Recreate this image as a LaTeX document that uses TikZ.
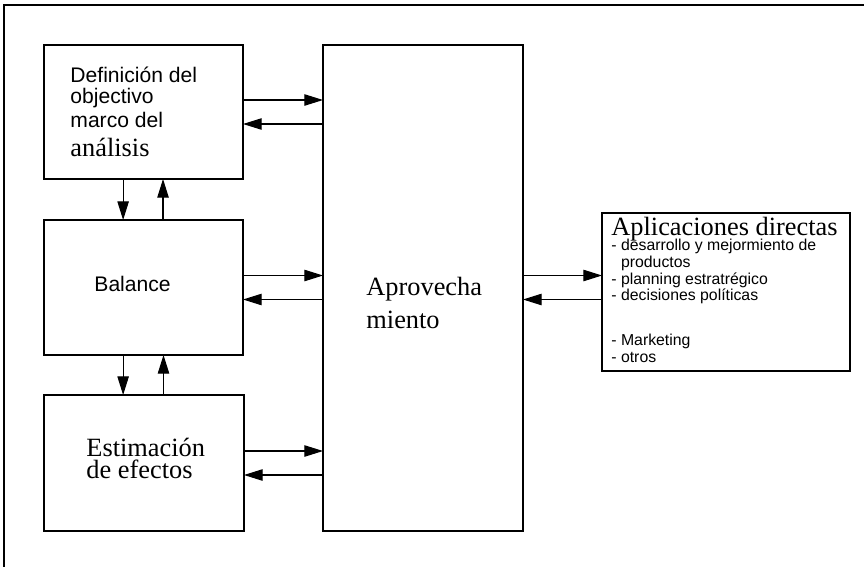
\documentclass[tikz,border=0pt]{standalone}
\usepackage{fontspec}
\newfontfamily\arialf{Liberation Sans}
\newfontfamily\timesf{Liberation Serif}
\usepackage{tikz}
\usetikzlibrary{arrows.meta}
\usetikzlibrary{calc}

\begin{document}
\begin{tikzpicture}[
    box/.style={draw,line width=0.7pt,inner sep=0pt,outer sep=0pt},
    conn/.style={line width=0.5pt,-{Triangle[length=3.1mm,width=1.9mm]}},
    txt/.style={inner sep=0pt,align=left,anchor=base west}]
    \useasboundingbox (0,0) rectangle (14.4,9.45);
    \draw[line width=0.7pt] (0.067,0)--(0.067,9.367)--(14.4,9.367);
    % boxes
    \node[box,minimum width=3.317cm,minimum height=2.233cm] (def) at (2.392,7.583){};
    \node[box,minimum width=3.317cm,minimum height=2.25cm] (bal) at (2.392,4.658){};
    \node[box,minimum width=3.333cm,minimum height=2.267cm] (est) at (2.4,1.733){};
    \node[box,minimum width=3.333cm,minimum height=8.1cm] (apr) at (7.05,4.65){};
    \node[box,minimum width=4.133cm,minimum height=2.633cm] (apl) at (12.1,4.583){};
    % texts (base = last line)
    \node[txt,font=\arialf\fontsize{10}{10}\selectfont] (deftxt) at (1.167,6.845)
        {Definición del\\objectivo\\[1.2pt]marco del\\[3.6pt]{\timesf\fontsize{12.5}{13}\selectfont análisis}};
    \node[txt,font=\arialf\fontsize{10}{12}\selectfont] (baltxt) at (1.567,4.588){Balance};
    \node[txt,font=\timesf\fontsize{12.5}{10.6}\selectfont] (esttxt) at (1.433,1.467){Estimación\\de efectos};
    \node[txt,font=\timesf\fontsize{12.5}{15.5}\selectfont] (aprtxt) at (6.1,3.983){Aprovecha\\miento};
    \node[txt,font=\timesf\fontsize{12.5}{13}\selectfont] (apltit) at (10.183,5.533){Aplicaciones directas};
    \node[txt,font=\arialf\fontsize{7.5}{7.9}\selectfont] (apllist) at (10.183,3.412)
        {- desarrollo y mejormiento de\\\hphantom{- }productos\\- planning estratrégico\\- decisiones políticas\\[13.4pt]- Marketing\\- otros};
    % arrows between boxes and Aprovechamiento
    \draw[conn] ([yshift=2mm]def.east) -- ([yshift=2mm]def.east -| apr.west);
    \draw[conn] ([yshift=-2mm]def.east -| apr.west) -- ([yshift=-2mm]def.east);
    \draw[conn] ([yshift=2mm]bal.east) -- ([yshift=2mm]bal.east -| apr.west);
    \draw[conn] ([yshift=-2mm]bal.east -| apr.west) -- ([yshift=-2mm]bal.east);
    \draw[conn] ([yshift=2mm]est.east) -- ([yshift=2mm]est.east -| apr.west);
    \draw[conn] ([yshift=-2mm]est.east -| apr.west) -- ([yshift=-2mm]est.east);
    \draw[conn] ([yshift=2mm]bal.east -| apr.east) -- ([yshift=2mm]bal.east -| apl.west);
    \draw[conn] ([yshift=-2mm]bal.east -| apl.west) -- ([yshift=-2mm]bal.east -| apr.east);
    % vertical arrows
    \draw[conn] ([xshift=-3.4mm]def.south) -- ([xshift=-3.4mm]def.south |- bal.north);
    \draw[conn] ([xshift=3.25mm]bal.north) -- ([xshift=3.25mm]bal.north |- def.south);
    \draw[conn] ([xshift=-3.4mm]bal.south) -- ([xshift=-3.4mm]bal.south |- est.north);
    \draw[conn] ([xshift=3.25mm]est.north) -- ([xshift=3.25mm]est.north |- bal.south);
\end{tikzpicture}
\end{document}
